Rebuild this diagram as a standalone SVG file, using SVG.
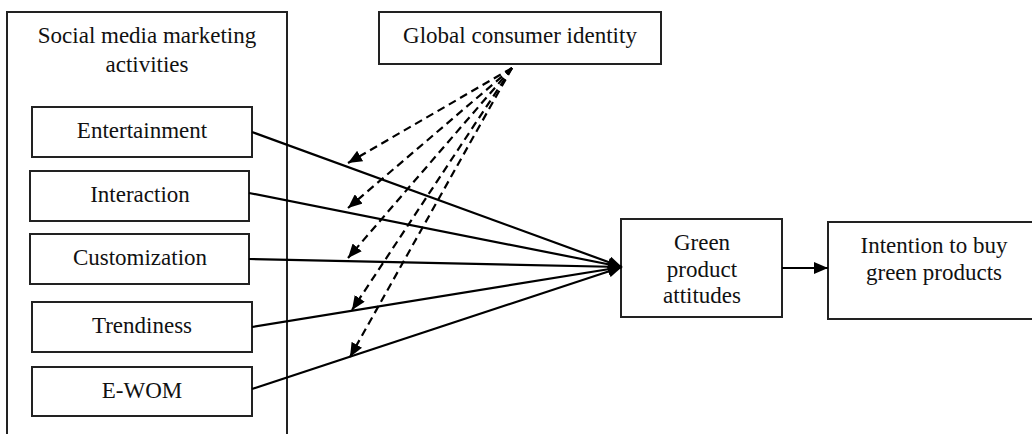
<svg xmlns="http://www.w3.org/2000/svg" width="1032" height="434" viewBox="0 0 1032 434">
<defs>
<style>
.box{fill:#fff;stroke:#222;stroke-width:2}
.t{font-family:"Liberation Serif","Times New Roman",serif;font-size:23px;fill:#111;text-anchor:middle}
.solid{stroke:#000;stroke-width:2.2;fill:none}
.dash{stroke:#000;stroke-width:2.2;fill:none;stroke-dasharray:8 5}
</style>
<marker id="ah" viewBox="0 0 14 12" refX="14" refY="6" markerWidth="14" markerHeight="12" markerUnits="userSpaceOnUse" orient="auto">
<path d="M0,0 L14,6 L0,12 z" fill="#000"/>
</marker>
</defs>
<rect width="1032" height="434" fill="#fff"/>
<g id="smma">
<rect class="box" x="7" y="12" width="280" height="440"/>
<text class="t" x="147" y="43">Social media marketing</text>
<text class="t" x="147" y="72">activities</text>
</g>
<g id="gci">
<rect class="box" x="379" y="12" width="282" height="52"/>
<text class="t" x="520" y="43">Global consumer identity</text>
</g>
<g id="entertainment">
<rect class="box" x="32" y="107" width="220" height="50"/>
<text class="t" x="142" y="138">Entertainment</text>
</g>
<g id="interaction">
<rect class="box" x="30" y="171" width="219" height="50"/>
<text class="t" x="140" y="202">Interaction</text>
</g>
<g id="customization">
<rect class="box" x="30" y="234" width="219" height="50"/>
<text class="t" x="140" y="265">Customization</text>
</g>
<g id="trendiness">
<rect class="box" x="32" y="302" width="220" height="50"/>
<text class="t" x="142" y="333">Trendiness</text>
</g>
<g id="ewom">
<rect class="box" x="32" y="367" width="220" height="49"/>
<text class="t" x="142" y="398">E-WOM</text>
</g>
<g id="gpa">
<rect class="box" x="621" y="219" width="161" height="98"/>
<text class="t" x="702" y="250">Green</text>
<text class="t" x="702" y="277">product</text>
<text class="t" x="702" y="303">attitudes</text>
</g>
<g id="intention">
<rect class="box" x="828" y="222" width="230" height="97"/>
<text class="t" x="934" y="253">Intention to buy</text>
<text class="t" x="934" y="280">green products</text>
</g>
<g id="connectors">
<line class="solid" x1="252" y1="132" x2="622" y2="267" marker-end="url(#ah)"/>
<line class="solid" x1="249" y1="193" x2="622" y2="267" marker-end="url(#ah)"/>
<line class="solid" x1="249" y1="259" x2="622" y2="267" marker-end="url(#ah)"/>
<line class="solid" x1="252" y1="327" x2="622" y2="267" marker-end="url(#ah)"/>
<line class="solid" x1="252" y1="389" x2="622" y2="267" marker-end="url(#ah)"/>
<line class="solid" x1="782" y1="268" x2="828" y2="268" marker-end="url(#ah)"/>
<line class="dash" x1="512" y1="68" x2="348" y2="163" marker-end="url(#ah)"/>
<line class="dash" x1="512" y1="68" x2="348" y2="208" marker-end="url(#ah)"/>
<line class="dash" x1="512" y1="68" x2="348" y2="258" marker-end="url(#ah)"/>
<line class="dash" x1="512" y1="68" x2="352" y2="310" marker-end="url(#ah)"/>
<line class="dash" x1="512" y1="68" x2="350" y2="357" marker-end="url(#ah)"/>
</g>
</svg>
